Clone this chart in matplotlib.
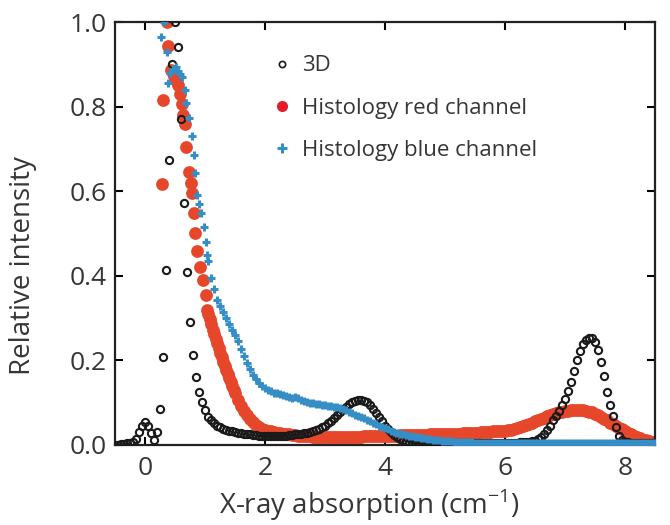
import numpy as np
import matplotlib
matplotlib.use("Agg")
import matplotlib.pyplot as plt
from matplotlib.lines import Line2D

plt.rcParams['font.family'] = ['Open Sans', 'DejaVu Sans']

# ---------------- data ----------------
# 3D (black open circles), sampled every 0.05 from -0.5 to 8.5
black_x0, black_step = -0.5, 0.05
black_y = [
    0.000, 0.001, 0.002, 0.003, 0.004, 0.005, 0.007, 0.014, 0.030, 0.045,
    0.055, 0.045, 0.028, 0.012, 0.030, 0.084, 0.207, 0.414, 0.674, 0.900,
    1.000, 0.940, 0.770, 0.571, 0.410, 0.290, 0.213, 0.161, 0.126, 0.102,
    0.083, 0.067, 0.058, 0.051, 0.046, 0.042, 0.039, 0.036, 0.034, 0.032,
    0.030, 0.029, 0.028, 0.027, 0.026, 0.025, 0.024, 0.023, 0.022, 0.022,
    0.021, 0.021, 0.021, 0.021, 0.021, 0.021, 0.022, 0.022, 0.023, 0.024,
    0.025, 0.026, 0.027, 0.028, 0.029, 0.031, 0.033, 0.035, 0.038, 0.042,
    0.046, 0.051, 0.057, 0.063, 0.070, 0.077, 0.084, 0.091, 0.097, 0.102,
    0.105, 0.107, 0.107, 0.105, 0.101, 0.094, 0.086, 0.076, 0.066, 0.056,
    0.046, 0.037, 0.030, 0.024, 0.019, 0.015, 0.012, 0.010, 0.008, 0.007,
    0.006, 0.006, 0.006, 0.005, 0.005, 0.005, 0.005, 0.005, 0.005, 0.005,
    0.005, 0.005, 0.005, 0.005, 0.005, 0.005, 0.005, 0.005, 0.005, 0.005,
    0.005, 0.005, 0.005, 0.005, 0.005, 0.005, 0.005, 0.005, 0.005, 0.005,
    0.005, 0.005, 0.005, 0.005, 0.005, 0.006, 0.006, 0.007, 0.008, 0.009,
    0.010, 0.014, 0.019, 0.026, 0.035, 0.046, 0.058, 0.068, 0.080, 0.094,
    0.108, 0.128, 0.150, 0.175, 0.200, 0.222, 0.238, 0.248, 0.252, 0.252,
    0.244, 0.225, 0.197, 0.162, 0.125, 0.095, 0.068, 0.042, 0.022, 0.012,
    0.008, 0.006, 0.005, 0.005, 0.004, 0.004, 0.004, 0.004, 0.004, 0.004,
    0.004,
]

# Histology red channel: steep head (irregular x), then every 0.05 from 1.05
red_head_x = [0.28, 0.30, 0.36, 0.39, 0.43, 0.46, 0.49, 0.52, 0.55, 0.58,
              0.61, 0.64, 0.67, 0.69, 0.73, 0.76, 0.78, 0.82, 0.84, 0.87,
              0.92, 0.97, 1.01, 1.04]
red_head_y = [0.617, 0.816, 1.000, 0.944, 0.887, 0.880, 0.872, 0.862, 0.850, 0.830,
              0.806, 0.780, 0.759, 0.705, 0.645, 0.620, 0.596, 0.548, 0.502, 0.459,
              0.420, 0.390, 0.355, 0.320]
# extra readings on the steep shoulder (x = 1.075 ... 1.475)
red_mid_x = [1.075, 1.125, 1.175, 1.225, 1.275, 1.325, 1.375, 1.425, 1.475]
red_mid_y = [0.297, 0.273, 0.251, 0.229, 0.207, 0.187, 0.167, 0.149, 0.131]
red_tail_x0, tail_step = 1.05, 0.05
red_tail_y = [
    0.310, 0.285, 0.262, 0.240, 0.218, 0.197, 0.177, 0.158, 0.140,
    0.123, 0.107, 0.093, 0.080, 0.070, 0.061, 0.054, 0.048, 0.043, 0.039,
    0.036, 0.034, 0.032, 0.030, 0.029, 0.028, 0.027, 0.026, 0.025, 0.024,
    0.023, 0.022, 0.022, 0.021, 0.021, 0.021, 0.020, 0.020, 0.020, 0.020,
    0.020, 0.020, 0.020, 0.020, 0.020, 0.020, 0.020, 0.020, 0.020, 0.020,
    0.020, 0.020, 0.020, 0.021, 0.021, 0.021, 0.021, 0.021, 0.021, 0.022,
    0.022, 0.022, 0.022, 0.022, 0.022, 0.023, 0.023, 0.023, 0.023, 0.023,
    0.023, 0.024, 0.024, 0.024, 0.024, 0.025, 0.025, 0.025, 0.025, 0.026,
    0.026, 0.026, 0.026, 0.027, 0.027, 0.027, 0.028, 0.028, 0.028, 0.029,
    0.029, 0.029, 0.030, 0.030, 0.031, 0.031, 0.032, 0.032, 0.033, 0.033,
    0.034, 0.035, 0.036, 0.038, 0.040, 0.042, 0.044, 0.047, 0.050, 0.053,
    0.056, 0.059, 0.062, 0.065, 0.068, 0.071, 0.073, 0.075, 0.077, 0.079,
    0.080, 0.081, 0.082, 0.083, 0.083, 0.083, 0.082, 0.081, 0.079, 0.077,
    0.074, 0.070, 0.066, 0.062, 0.058, 0.053, 0.049, 0.045, 0.041, 0.037,
    0.033, 0.029, 0.025, 0.022, 0.019, 0.016, 0.013, 0.011, 0.009, 0.007,
    0.005,
]

# Histology blue channel: steep head (irregular x), then every 0.05 from 1.05
blue_head_x = [0.26, 0.32, 0.36, 0.38, 0.42, 0.46, 0.51, 0.55, 0.58, 0.62,
               0.67, 0.69, 0.73, 0.78, 0.82, 0.84, 0.87, 0.90, 0.93, 0.98,
               1.01, 1.04]
blue_head_y = [0.965, 1.000, 0.930, 0.855, 0.880, 0.890, 0.894, 0.885, 0.877, 0.870,
               0.840, 0.808, 0.772, 0.730, 0.686, 0.642, 0.591, 0.570, 0.548, 0.516,
               0.480, 0.450]
blue_tail_y = [
    0.435, 0.395, 0.368, 0.343, 0.328, 0.314, 0.300, 0.287, 0.273,
    0.259, 0.245, 0.228, 0.211, 0.194, 0.179, 0.166, 0.155, 0.146, 0.139,
    0.134, 0.130, 0.127, 0.124, 0.122, 0.120, 0.118, 0.116, 0.114, 0.112,
    0.114, 0.110, 0.106, 0.104, 0.102, 0.100, 0.099, 0.097, 0.096, 0.095,
    0.094, 0.093, 0.092, 0.090, 0.089, 0.087, 0.085, 0.082, 0.078, 0.075,
    0.072, 0.069, 0.066, 0.063, 0.060, 0.057, 0.053, 0.050, 0.046, 0.043,
    0.040, 0.037, 0.034, 0.031, 0.029, 0.027, 0.025, 0.023, 0.022, 0.021,
    0.020, 0.019, 0.017, 0.016, 0.015, 0.014, 0.013, 0.012, 0.011, 0.010,
    0.010, 0.009, 0.009, 0.008, 0.008, 0.008, 0.007, 0.007, 0.006, 0.006,
    0.005, 0.005, 0.005, 0.005, 0.004, 0.004, 0.004, 0.004, 0.004, 0.004,
    0.004, 0.004, 0.004, 0.004, 0.004, 0.004, 0.004, 0.004, 0.004, 0.004,
    0.004, 0.004, 0.004, 0.004, 0.004, 0.004, 0.004, 0.004, 0.004, 0.004,
    0.004, 0.004, 0.004, 0.004, 0.004, 0.004, 0.004, 0.004, 0.004, 0.004,
    0.004, 0.004, 0.004, 0.004, 0.004, 0.004, 0.004, 0.004, 0.004, 0.004,
    0.004, 0.004, 0.004, 0.004, 0.004, 0.005, 0.005, 0.005, 0.005, 0.005,
    0.005,
]

labels = ["3D", "Histology red channel", "Histology blue channel"]
x_ticks = [0, 2, 4, 6, 8]
y_ticks = [0.0, 0.2, 0.4, 0.6, 0.8, 1.0]

# ---------------- build x ----------------
black_x = np.round(black_x0 + black_step * np.arange(len(black_y)), 3)
red_x = np.concatenate([red_head_x, red_mid_x,
                        np.round(red_tail_x0 + tail_step * np.arange(len(red_tail_y)), 3)])
red_y = np.concatenate([red_head_y, red_mid_y, red_tail_y])
blue_x = np.concatenate([blue_head_x, np.round(red_tail_x0 + tail_step * np.arange(len(blue_tail_y)), 3)])
blue_y = np.concatenate([blue_head_y, blue_tail_y])

RED = '#E6472B'
RED_LEG = '#E31B2B'
BLUE = '#358FC6'
TXT = '#363636'

fig = plt.figure(figsize=(6.7, 5.25), dpi=100)
ax = fig.add_axes([115/670, 80/525, 540/670, 423/525])

ax.plot(red_x, red_y, 'o', ms=9.2, color=RED, mec=RED, mew=0, zorder=2)
ax.plot(black_x, black_y, 'o', ms=5.2, mfc='none', mec='#1a1a1a', mew=1.5, zorder=3)
ax.plot(blue_x, blue_y, '+', ms=5.5, color=BLUE, mew=2.2, zorder=4)

ax.set_xlim(-0.5, 8.5)
ax.set_ylim(0, 1.0)
ax.set_xticks(x_ticks)
ax.set_yticks(y_ticks)
ax.set_yticklabels([f"{v:.1f}" for v in y_ticks])
ax.tick_params(direction='in', length=6, width=1.5, top=True, right=True,
               labelsize=19, labelcolor=TXT)
ax.tick_params(axis='y', pad=6)
ax.tick_params(axis='x', pad=8)
for s in ax.spines.values():
    s.set_linewidth(1.6)
    s.set_color('#222222')

ax.set_xlabel(r'X-ray absorption (cm$^{\mathregular{-1}}$)', fontsize=20, color=TXT, va='center')
ax.xaxis.set_label_coords(0.472, -0.142)
ax.set_ylabel('Relative intensity', fontsize=20, color=TXT, va='center')
ax.yaxis.set_label_coords(-0.170, 0.425)

handles = [
    Line2D([], [], ls='none', marker='o', ms=4.5, mfc='none', mec='#1a1a1a', mew=1.2),
    Line2D([], [], ls='none', marker='o', ms=8, color=RED_LEG, mew=0),
    Line2D([], [], ls='none', marker='+', ms=7, color=BLUE, mew=2.2),
]
leg = ax.legend(handles, labels, loc='upper left', bbox_to_anchor=(0.2926, 0.921),
                frameon=False, fontsize=16, handlelength=0.8, handletextpad=0.5,
                labelspacing=0.95, borderpad=0, borderaxespad=0)
for t in leg.get_texts():
    t.set_color(TXT)

fig.savefig('out.png', dpi=100)
